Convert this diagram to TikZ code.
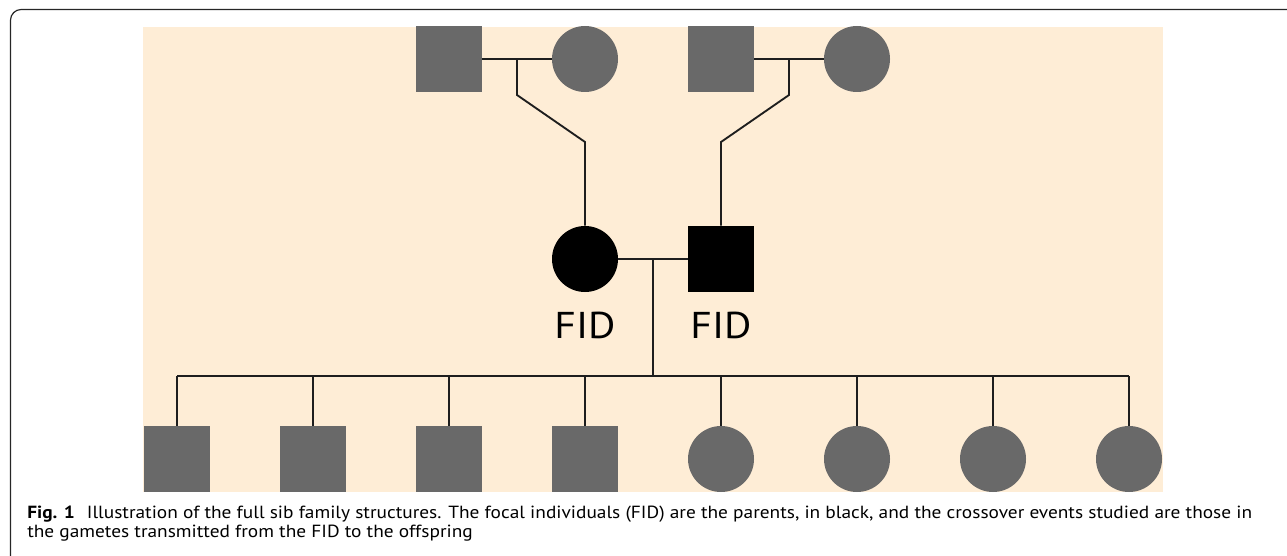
\documentclass[tikz,border=0pt]{standalone}
\usepackage{fontspec}
\newfontfamily\capfont[FakeStretch=1.1]{PT Sans}
\newfontfamily\labfont[FakeStretch=1.12]{PT Sans}
\definecolor{bgbeige}{HTML}{FEEDD6}
\definecolor{sibgray}{HTML}{696969}
\definecolor{linedark}{HTML}{1E1E1E}
\tikzset{
  px/.style={x=0.75pt,y=-0.75pt},
  male/.style={rectangle,draw=none,fill=sibgray,minimum size=49.5pt,inner sep=0pt},
  female/.style={circle,draw=none,fill=sibgray,minimum size=49.5pt,inner sep=0pt},
  focal/.style={fill=black},
  link/.style={draw=linedark,line width=1.4pt},
  fidlabel/.style={font=\labfont\fontsize{28}{30}\selectfont,anchor=base},
  captext/.style={font=\capfont\fontsize{13.2}{15}\selectfont,anchor=base west,inner sep=0pt}
}
\begin{document}
\begin{tikzpicture}[px]
\useasboundingbox (0,0) rectangle (1287,556);
% outer frame
\draw[black!85,line width=0.9pt,rounded corners=8pt] (10.5,560) -- (10.5,9.5) -- (1292,9.5);
% background panel
\fill[bgbeige] (143,27) rectangle (1163,492);

% grandparents
\node[male]   (gp1m) at (449,59) {};
\node[female] (gp1f) at (585,59) {};
\node[male]   (gp2m) at (721,59) {};
\node[female] (gp2f) at (857,59) {};

% focal individuals
\node[female,focal] (fidf) at (585,259) {};
\node[male,focal]   (fidm) at (721,259) {};
\node[fidlabel] (labf) at (585,338) {FID};
\node[fidlabel] (labm) at (721,338) {FID};

% offspring
\foreach \i/\x in {1/177,2/313,3/449,4/585}
  \node[male] (c\i) at (\x,459) {};
\foreach \i/\x in {5/721,6/857,7/993,8/1129}
  \node[female] (c\i) at (\x,459) {};

% marriage and descent lines, grandparents to focal mother
\coordinate (m1) at (517,59);
\coordinate (m1a) at (517,95);
\coordinate (m1b) at (585,142);
\draw[link] (gp1m.east) -- (gp1f.west);
\draw[link] (m1) -- (m1a) -- (m1b) -- (fidf.north);

% grandparents to focal father
\coordinate (m2) at (789,59);
\coordinate (m2a) at (789,95);
\coordinate (m2b) at (721,142);
\draw[link] (gp2m.east) -- (gp2f.west);
\draw[link] (m2) -- (m2a) -- (m2b) -- (fidm.north);

% focal couple and sibship
\coordinate (m3) at (653,259);
\coordinate (sib) at (653,376);
\draw[link] (fidf.east) -- (fidm.west);
\draw[link] (m3) -- (sib);
\draw[link] (c1.north |- sib) -- (c8.north |- sib);
\foreach \i in {1,...,8}
  \draw[link] (c\i.north |- sib) -- (c\i.north);

% caption
\node[captext] (cap1) at (27,518) {\textbf{Fig. 1}\hspace{9pt}Illustration of the full sib family structures. The focal individuals (FID) are the parents, in black, and the crossover events studied are those in};
\node[captext] (cap2) at (27,537) {the gametes transmitted from the FID to the offspring};
\end{tikzpicture}
\end{document}
